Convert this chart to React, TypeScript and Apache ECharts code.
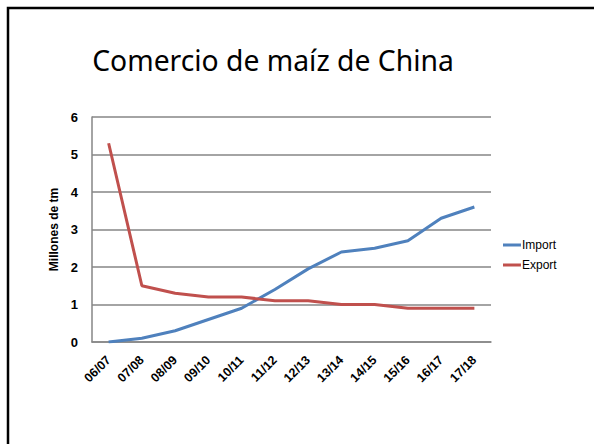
import React, { useEffect, useRef } from "react";
import * as echarts from "echarts";

const categories = ["06/07", "07/08", "08/09", "09/10", "10/11", "11/12", "12/13", "13/14", "14/15", "15/16", "16/17", "17/18"];
const importValues = [0, 0.1, 0.3, 0.6, 0.9, 1.4, 1.95, 2.4, 2.5, 2.7, 3.3, 3.6];
const exportValues = [5.3, 1.5, 1.3, 1.2, 1.2, 1.1, 1.1, 1.0, 1.0, 0.9, 0.9, 0.9];
const yTicks = [0, 1, 2, 3, 4, 5, 6];

export default function App() {
  const ref = useRef<HTMLDivElement>(null);
  useEffect(() => {
    document.body.style.margin = "0";
    const chart = echarts.init(ref.current!, undefined, { renderer: "svg" });
    const labelFont = "'Liberation Sans', Arial, sans-serif";
    chart.setOption({
      animation: false,
      backgroundColor: "#ffffff",
      title: {
        text: "Comercio de maíz de China",
        left: 268,
        top: 41,
        textAlign: "center",
        textStyle: { fontFamily: "'Noto Sans', sans-serif", fontSize: 28.3, fontWeight: "normal", color: "#000" },
      },
      graphic: [
        {
          type: "rect",
          shape: { x: 8, y: 8, width: 800, height: 800 },
          style: { fill: "none", stroke: "#000", lineWidth: 2.5 },
          silent: true,
        },
      ],
      legend: {
        orient: "vertical",
        left: 498,
        top: 234,
        itemWidth: 18,
        itemHeight: 14,
        itemGap: 8,
        data: [
          { name: "Import", icon: "path://M0,0 L18,0 L18,3 L0,3 Z" },
          { name: "Export", icon: "path://M0,0 L18,0 L18,3 L0,3 Z" },
        ],
        textStyle: { fontFamily: labelFont, fontSize: 12, color: "#000", padding: [0, 0, 0, -4] },
      },
      grid: { left: 92, right: 103, top: 117, bottom: 102 },
      xAxis: {
        type: "category",
        data: categories,
        boundaryGap: true,
        axisLine: { lineStyle: { color: "#868686", width: 1.5 } },
        axisTick: { show: false },
        axisLabel: {
          rotate: 45,
          interval: 0,
          fontFamily: labelFont,
          fontWeight: "bold",
          fontSize: 12.5,
          color: "#000",
          margin: 16,
        },
      },
      yAxis: {
        type: "value",
        min: yTicks[0],
        max: yTicks[yTicks.length - 1],
        interval: 1,
        name: "Millones de tm",
        nameLocation: "middle",
        nameGap: 30,
        nameTextStyle: { fontFamily: labelFont, fontWeight: "bold", fontSize: 12, color: "#000" },
        axisLine: { show: true, lineStyle: { color: "#868686", width: 1.5 } },
        axisTick: { show: false },
        splitLine: { lineStyle: { color: "#868686", width: 1.5 } },
        axisLabel: { fontFamily: labelFont, fontWeight: "bold", fontSize: 13, color: "#000", margin: 14 },
      },
      series: [
        {
          name: "Import",
          type: "line",
          data: importValues,
          symbol: "none",
          lineStyle: { color: "#4F81BD", width: 3 },
          itemStyle: { color: "#4F81BD" },
        },
        {
          name: "Export",
          type: "line",
          data: exportValues,
          symbol: "none",
          lineStyle: { color: "#C0504D", width: 3 },
          itemStyle: { color: "#C0504D" },
        },
      ],
    });
    return () => chart.dispose();
  }, []);
  return <div ref={ref} style={{ position: "fixed", left: 0, top: 0, width: 594, height: 444 }} />;
}
